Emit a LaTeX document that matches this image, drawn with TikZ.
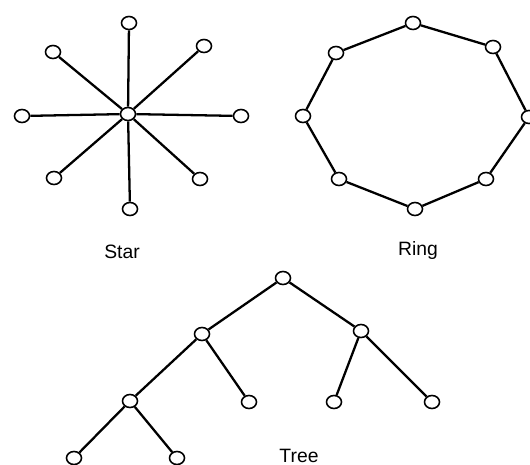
\documentclass[tikz,border=0pt]{standalone}
\usepackage{fontspec}
\setmainfont{Liberation Sans}
\usetikzlibrary{shapes.geometric}
\begin{document}
\begin{tikzpicture}[x=0.02cm, y=-0.02cm,
  station/.style={draw, ellipse, fill=white, line width=0.9pt, minimum width=0.3cm, minimum height=0.26cm, inner sep=0pt},
  link/.style={line width=1.3pt},
  caption/.style={font=\fontsize{11}{13}\selectfont}]
  \clip (0,0) rectangle (530,465);

  % Star
  \node[station] (hub) at (128,114) {};
  \foreach \n/\x/\y in {s1/129/23, s2/204/46, s3/241/116, s4/200/179,
                        s5/130/209, s6/54/178, s7/22/116, s8/53/52} {
    \node[station] (\n) at (\x,\y) {};
    \draw[link] (hub) -- (\n);
  }
  \node[caption] (starlabel) at (122,252) {Star};

  % Ring
  \foreach \n/\x/\y in {r1/413/23, r2/493/47, r3/529/117, r4/486/179,
                        r5/415/209, r6/339/179, r7/303/116, r8/336/53}
    \node[station] (\n) at (\x,\y) {};
  \foreach \a/\b in {r1/r2, r2/r3, r3/r4, r4/r5, r5/r6, r6/r7, r7/r8, r8/r1}
    \draw[link] (\a) -- (\b);
  \node[caption] (ringlabel) at (418,251) {Ring};

  % Tree
  \node[station] (root) at (283,278) {};
  \node[station] (tl) at (202,334) {};
  \node[station] (tr) at (361,331) {};
  \node[station] (tll) at (130,401) {};
  \node[station] (tlr) at (249,402) {};
  \node[station] (trl) at (334,402) {};
  \node[station] (trr) at (432,402) {};
  \node[station] (tlll) at (74,458) {};
  \node[station] (tllr) at (177,458) {};
  \foreach \a/\b in {root/tl, root/tr, tl/tll, tl/tlr, tr/trl, tr/trr, tll/tlll, tll/tllr}
    \draw[link] (\a) -- (\b);
  \node[caption] (treelabel) at (299,456) {Tree};
\end{tikzpicture}
\end{document}
